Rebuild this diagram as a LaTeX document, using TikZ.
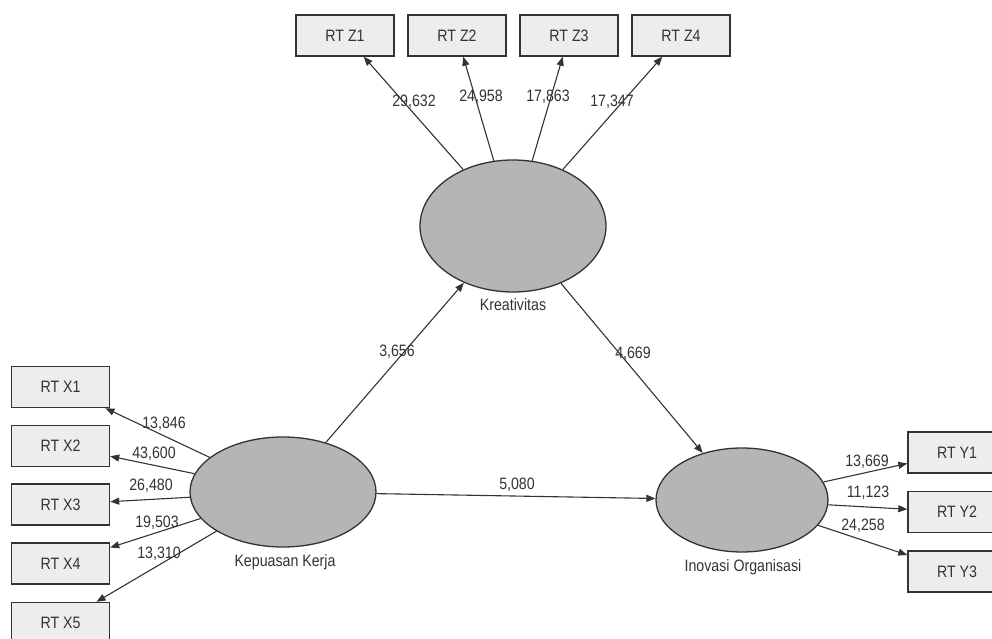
\documentclass[tikz,border=0pt]{standalone}
\usepackage{fontspec}
\setmainfont{Liberation Sans}[FakeStretch=0.86]
\usetikzlibrary{shapes.geometric,arrows.meta}
\definecolor{boxgray}{HTML}{EDEDED}
\definecolor{latgray}{HTML}{B5B5B5}
\definecolor{linegray}{HTML}{333333}

\begin{document}
\begin{tikzpicture}[x=1pt,y=1pt,
  font=\fontsize{16.5}{18}\selectfont,
  indicator/.style={draw=linegray,line width=1.4pt,fill=boxgray,
    minimum width=98pt,minimum height=41pt,inner sep=0pt,text=linegray},
  latent/.style={ellipse,draw=linegray,line width=1.3pt,fill=latgray,inner sep=0pt},
  arrowline/.style={draw=linegray,line width=1.1pt,-{Triangle[length=9pt,width=7pt]}},
  coef/.style={text=linegray,inner sep=0pt}]
\useasboundingbox (0,0) rectangle (992,639);
\clip (0,0) rectangle (992,639);

\node[latent,minimum width=186pt,minimum height=132pt] (kreativitas) at (513,413) {};
\node[latent,minimum width=186pt,minimum height=110pt] (kepuasan) at (283,147) {};
\node[latent,minimum width=172pt,minimum height=104pt] (inovasi) at (742,139) {};
\node[coef] (kreatext) at (513,334) {Kreativitas};
\node[coef] (keputext) at (285,77) {Kepuasan Kerja};
\node[coef] (inovtext) at (743,72) {Inovasi Organisasi};

\foreach\x[count=\i] in {345,457,569,681}{\node[indicator] (z\i) at (\x,603.5) {RT Z\i};};
\foreach\y[count=\i] in {252,193,134.5,75.5,16}{\node[indicator] (x\i) at (60.5,\y) {RT X\i};};
\foreach\y[count=\i] in {186.5,127,67.5}{\node[indicator] (y\i) at (957,\y) {RT Y\i};};

\foreach\i/\v/\lx/\ly in {1/{29,632}/414/537,2/{24,958}/481/542,
                           3/{17,863}/548/542,4/{17,347}/612/537}
  {\draw[arrowline] (kreativitas) -- (z\i); \node[coef] (vz\i) at (\lx,\ly) {\v};};
\foreach\i/\v/\lx/\ly in {1/{13,846}/164/215,2/{43,600}/154/185,3/{26,480}/151/153,
                           4/{19,503}/157/116,5/{13,310}/159/85}
  {\draw[arrowline] (kepuasan) -- (x\i); \node[coef] (vx\i) at (\lx,\ly) {\v};};
\foreach\i/\v/\lx/\ly in {1/{13,669}/867/177,2/{11,123}/868/146,3/{24,258}/863/113}
  {\draw[arrowline] (inovasi) -- (y\i); \node[coef] (vy\i) at (\lx,\ly) {\v};};

\draw[arrowline] (kepuasan) -- (kreativitas);
\draw[arrowline] (kreativitas) -- (inovasi);
\draw[arrowline] (kepuasan) -- (inovasi);
\node[coef] (vkk) at (397,287) {3,656};
\node[coef] (vki) at (633,285) {4,669};
\node[coef] (vpi) at (517,154) {5,080};
\end{tikzpicture}
\end{document}
